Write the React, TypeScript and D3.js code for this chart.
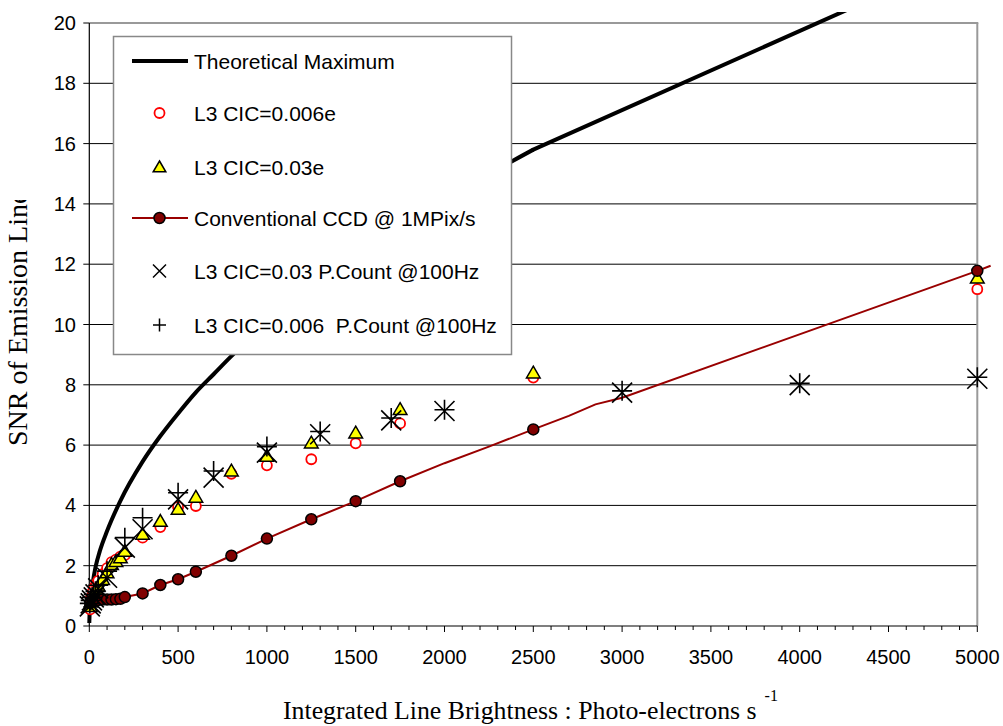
import React from 'react';
import * as d3 from 'd3';

// ---- data ----
const theoX = [0, 3, 10, 20, 35, 60, 100, 175, 300, 400, 500, 600, 700, 800, 900, 1000, 1250, 1500, 1750, 2000, 2500, 5000];
const theoY = [0.1, 0.6, 1.0, 1.45, 1.95, 2.5, 3.15, 4.15, 5.45, 6.3, 7.05, 7.75, 8.35, 8.95, 9.5, 10.0, 11.2, 12.25, 13.25, 14.15, 15.8, 22.36];

const l3X = [5, 10, 20, 30, 40, 50, 75, 100, 125, 150, 175, 200, 300, 400, 500, 600, 800, 1000, 1250, 1500, 1750, 2500, 5000];
const cic006 = [0.55, 0.95, 1.15, 1.3, 1.4, 1.5, 1.72, 1.92, 2.12, 2.2, 2.3, 2.35, 2.93, 3.28, 3.95, 3.98, 5.05, 5.33, 5.53, 6.06, 6.72, 8.24, 11.17];
const cic03 = [0.65, 0.8, 0.95, 1.1, 1.2, 1.33, 1.55, 1.77, 2.05, 2.15, 2.27, 2.49, 3.05, 3.48, 3.88, 4.28, 5.15, 5.64, 6.08, 6.41, 7.19, 8.4, 11.55];
const ccdVals = [0.75, 0.8, 0.82, 0.84, 0.85, 0.86, 0.88, 0.88, 0.88, 0.89, 0.9, 0.96, 1.08, 1.36, 1.55, 1.8, 2.33, 2.9, 3.54, 4.14, 4.8, 6.52, 11.78];

const ccdLineX = [5, 10, 20, 30, 40, 50, 75, 100, 125, 150, 175, 200, 300, 400, 500, 600, 800, 1000, 1250, 1500, 1750, 2000, 2250, 2500, 2700, 2850, 3000, 5000, 5075];
const ccdLineY = [0.75, 0.8, 0.82, 0.84, 0.85, 0.86, 0.88, 0.88, 0.88, 0.89, 0.9, 0.96, 1.08, 1.36, 1.55, 1.8, 2.33, 2.9, 3.54, 4.14, 4.8, 5.4, 5.95, 6.52, 6.97, 7.35, 7.57, 11.78, 11.95];

const pcX = [3, 8, 15, 25, 35, 50, 100, 200, 300, 500, 700, 1000, 1300, 1700, 2000, 3000, 4000, 5000];
const pc03 = [0.65, 0.75, 0.85, 0.95, 1.05, 1.25, 1.6, 2.6, 3.21, 4.2, 4.92, 5.75, 6.36, 6.82, 7.13, 7.74, 7.99, 8.2];
const pc006 = [0.75, 0.85, 0.95, 1.05, 1.15, 1.35, 1.82, 2.93, 3.59, 4.42, 5.14, 5.95, 6.45, 6.9, 7.17, 7.8, 8.05, 8.25];

const xTicks = [0, 500, 1000, 1500, 2000, 2500, 3000, 3500, 4000, 4500, 5000];
const xMinorTicks = d3.range(0, 5001, 100);
const yTicks = [0, 2, 4, 6, 8, 10, 12, 14, 16, 18, 20];

const legendLabels = [
  'Theoretical Maximum',
  'L3 CIC=0.006e',
  'L3 CIC=0.03e',
  'Conventional CCD @ 1MPix/s',
  'L3 CIC=0.03 P.Count @100Hz',
  'L3 CIC=0.006  P.Count @100Hz',
];

const SANS = '"Liberation Sans", Arial, sans-serif';
const SERIF = '"Liberation Serif", "Times New Roman", serif';

export default function App() {
  const W = 1003, H = 726;
  const x = d3.scaleLinear().domain([0, 5000]).range([89.3, 977.3]);
  const y = d3.scaleLinear().domain([0, 20]).range([626, 23]);

  const nTheo = theoX.length;
  const theoCurve = d3.line<number>().x((_, i) => x(theoX[i])).y((d) => y(d)).curve(d3.curveMonotoneX)(theoY.slice(0, nTheo - 1)) || '';
  const theoTail = d3.line<number>().x((_, i) => x(theoX[nTheo - 2 + i])).y((d) => y(d))(theoY.slice(nTheo - 2)) || '';
  const ccdLine = d3.line<number>().x((_, i) => x(ccdLineX[i])).y((d) => y(d))(ccdLineY) || '';

  const tri = (cx: number, cy: number, s: number) =>
    `M${cx},${cy - s}L${cx + s * 1.05},${cy + s * 0.8}L${cx - s * 1.05},${cy + s * 0.8}Z`;
  const cross = (cx: number, cy: number, s: number) =>
    `M${cx - s},${cy - s}L${cx + s},${cy + s}M${cx - s},${cy + s}L${cx + s},${cy - s}`;
  const plus = (cx: number, cy: number, s: number) =>
    `M${cx - s},${cy}L${cx + s},${cy}M${cx},${cy - s}L${cx},${cy + s}`;

  const legX = 113.5, legY = 36.5, legW = 398, legH = 318;
  const rowY = [61, 113, 167, 218, 271, 325];
  const mx = 159.5;
  const tx = 194;

  return (
    <svg width={W} height={H} style={{ position: 'absolute', left: 0, top: 0, background: '#fff' }}
      xmlns="http://www.w3.org/2000/svg">
      <defs>
        <clipPath id="theoClip">
          <rect x={80} y={12} width={920} height={640} />
        </clipPath>
        <clipPath id="ylabClip">
          <rect x={0} y={200} width={60} height={400} />
        </clipPath>
      </defs>
      <rect x={0} y={0} width={W} height={H} fill="#fff" />

      {/* gridlines */}
      {yTicks.filter((t) => t > 0 && t < 20).map((t) => (
        <line key={'g' + t} x1={x(0)} x2={x(5000)} y1={y(t)} y2={y(t)} stroke="#000" strokeWidth={1} />
      ))}
      {/* plot border top/right */}
      <line x1={x(0)} x2={x(5000) + 1} y1={y(20)} y2={y(20)} stroke="#999" strokeWidth={2} />
      <line x1={x(5000)} x2={x(5000)} y1={y(20)} y2={y(0)} stroke="#999" strokeWidth={2} />

      {/* axes */}
      <line x1={x(0)} x2={x(0)} y1={y(20)} y2={y(0)} stroke="#000" strokeWidth={1.2} />
      <line x1={x(0)} x2={x(5000)} y1={y(0)} y2={y(0)} stroke="#000" strokeWidth={1.2} />
      {yTicks.map((t) => (
        <g key={'yt' + t}>
          <line x1={x(0) - 6} x2={x(0)} y1={y(t)} y2={y(t)} stroke="#000" strokeWidth={1} />
          <text x={76} y={y(t) + 7} textAnchor="end" fontFamily={SANS} fontSize={20}>{t}</text>
        </g>
      ))}
      {xMinorTicks.map((t) => (
        <line key={'xm' + t} x1={x(t)} x2={x(t)} y1={y(0)} y2={y(0) + (t % 500 === 0 ? 6 : 4)} stroke="#000" strokeWidth={1} />
      ))}
      {xTicks.map((t) => (
        <text key={'xt' + t} x={x(t)} y={664} textAnchor="middle" fontFamily={SANS} fontSize={20}>{t}</text>
      ))}

      {/* axis titles */}
      <text x={283} y={719} fontFamily={SERIF} fontSize={25.8}>
        Integrated Line Brightness : Photo-electrons s
        <tspan dx={8} dy={-18} fontSize={16}>-1</tspan>
      </text>
      <g clipPath="url(#ylabClip)">
        <text transform="translate(27,446) rotate(-90)" fontFamily={SERIF} fontSize={28}>SNR of Emission Line</text>
      </g>

      {/* theoretical line */}
      <g clipPath="url(#theoClip)">
        <path d={theoCurve} fill="none" stroke="#000" strokeWidth={4} strokeLinejoin="round" />
        <path d={theoTail} fill="none" stroke="#000" strokeWidth={4} strokeLinecap="round" />
      </g>

      {/* CIC 0.006 circles */}
      {cic006.map((v, i) => (
        <circle key={'c' + i} cx={x(l3X[i])} cy={y(v)} r={5} fill="#fff" stroke="#ff0000" strokeWidth={1.8} />
      ))}
      {/* CIC 0.03 triangles */}
      {cic03.map((v, i) => (
        <path key={'t' + i} d={tri(x(l3X[i]), y(v), 6.5)} fill="#ffff00" stroke="#000" strokeWidth={1.5} />
      ))}
      {/* CCD */}
      <path d={ccdLine} fill="none" stroke="#990000" strokeWidth={2} />
      {ccdVals.map((v, i) => (
        <circle key={'d' + i} cx={x(l3X[i])} cy={y(v)} r={5.5} fill="#800000" stroke="#000" strokeWidth={1.5} />
      ))}
      {/* photon counting */}
      {pc03.map((v, i) => (
        <path key={'x' + i} d={cross(x(pcX[i]), y(v), 10)} stroke="#000" strokeWidth={1.6} fill="none" />
      ))}
      {pc006.map((v, i) => (
        <path key={'p' + i} d={plus(x(pcX[i]), y(v), 10)} stroke="#000" strokeWidth={1.6} fill="none" />
      ))}

      {/* legend */}
      <rect x={legX} y={legY} width={legW} height={legH} fill="#fff" stroke="#888" strokeWidth={1.5} />
      <line x1={132} x2={188} y1={rowY[0]} y2={rowY[0]} stroke="#000" strokeWidth={4} />
      <circle cx={mx} cy={rowY[1]} r={5} fill="#fff" stroke="#ff0000" strokeWidth={1.8} />
      <path d={tri(mx, rowY[2], 6)} fill="#ffff00" stroke="#000" strokeWidth={1.5} />
      <line x1={132} x2={188} y1={rowY[3]} y2={rowY[3]} stroke="#990000" strokeWidth={2} />
      <circle cx={mx} cy={rowY[3]} r={5.5} fill="#800000" stroke="#000" strokeWidth={1.5} />
      <path d={cross(mx, rowY[4], 6.5)} stroke="#000" strokeWidth={1.5} fill="none" />
      <path d={plus(mx, rowY[5], 6.5)} stroke="#000" strokeWidth={1.5} fill="none" />
      {legendLabels.map((l, i) => (
        <text key={'l' + i} x={tx} y={rowY[i] + 7.5} fontFamily={SANS} fontSize={21} style={{ whiteSpace: 'pre' }}>{l}</text>
      ))}
    </svg>
  );
}
